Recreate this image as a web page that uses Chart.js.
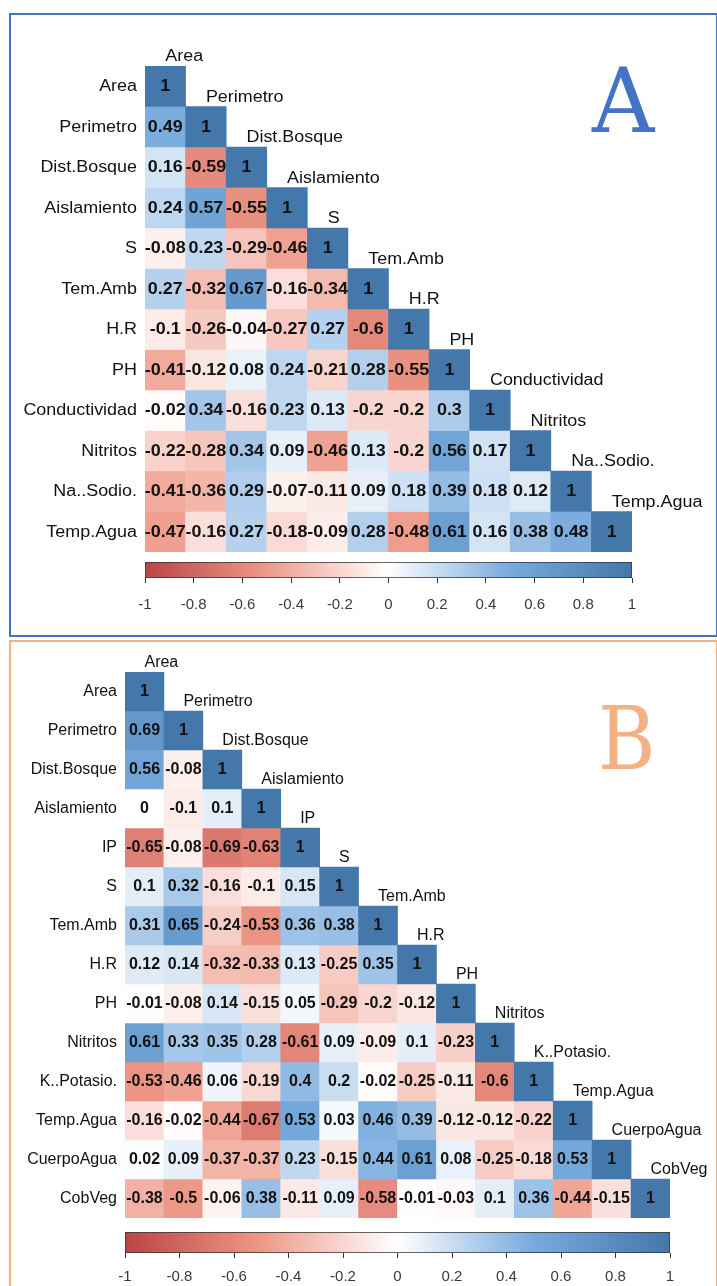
<!DOCTYPE html>
<html>
<head>
<meta charset="utf-8">
<title>Matrices de correlación</title>
<script src="https://cdn.jsdelivr.net/npm/chart.js@4/dist/chart.umd.min.js"></script>
<style>
  html, body { margin: 0; padding: 0; background: #fff; }
  #page { position: relative; width: 717px; height: 1286px; overflow: hidden; background: #fff; }
  .panel { position: absolute; box-sizing: border-box; border: 2px solid; }
  #panelA { left: 9px; top: 13px; width: 709px; height: 624px; border-color: #4472C4; }
  #panelB { left: 9px; top: 640px; width: 709px; height: 700px; border-color: #F4B183; }
  canvas { position: absolute; }
</style>
</head>
<body>
<div id="page">
  <div class="panel" id="panelA"></div>
  <div class="panel" id="panelB"></div>
  <canvas id="matA" width="702" height="545" style="left:12px;top:16px"></canvas>
  <canvas id="barA" width="702" height="62" style="left:12px;top:556px"></canvas>
  <canvas id="matB" width="702" height="585" style="left:12px;top:643px"></canvas>
  <canvas id="barB" width="702" height="57" style="left:12px;top:1226px"></canvas>
</div>
<script>
// Variables and lower-triangle correlations, panel A
const varsA = ['Area', 'Perimetro', 'Dist.Bosque', 'Aislamiento', 'S', 'Tem.Amb', 'H.R', 'PH',
  'Conductividad', 'Nitritos', 'Na..Sodio.', 'Temp.Agua'];
const corrA = [
  [1],
  [0.49, 1],
  [0.16, -0.59, 1],
  [0.24, 0.57, -0.55, 1],
  [-0.08, 0.23, -0.29, -0.46, 1],
  [0.27, -0.32, 0.67, -0.16, -0.34, 1],
  [-0.1, -0.26, -0.04, -0.27, 0.27, -0.6, 1],
  [-0.41, -0.12, 0.08, 0.24, -0.21, 0.28, -0.55, 1],
  [-0.02, 0.34, -0.16, 0.23, 0.13, -0.2, -0.2, 0.3, 1],
  [-0.22, -0.28, 0.34, 0.09, -0.46, 0.13, -0.2, 0.56, 0.17, 1],
  [-0.41, -0.36, 0.29, -0.07, -0.11, 0.09, 0.18, 0.39, 0.18, 0.12, 1],
  [-0.47, -0.16, 0.27, -0.18, -0.09, 0.28, -0.48, 0.61, 0.16, 0.38, 0.48, 1]
];

// Variables and lower-triangle correlations, panel B
const varsB = ['Area', 'Perimetro', 'Dist.Bosque', 'Aislamiento', 'IP', 'S', 'Tem.Amb', 'H.R', 'PH',
  'Nitritos', 'K..Potasio.', 'Temp.Agua', 'CuerpoAgua', 'CobVeg'];
const corrB = [
  [1],
  [0.69, 1],
  [0.56, -0.08, 1],
  [0, -0.1, 0.1, 1],
  [-0.65, -0.08, -0.69, -0.63, 1],
  [0.1, 0.32, -0.16, -0.1, 0.15, 1],
  [0.31, 0.65, -0.24, -0.53, 0.36, 0.38, 1],
  [0.12, 0.14, -0.32, -0.33, 0.13, -0.25, 0.35, 1],
  [-0.01, -0.08, 0.14, -0.15, 0.05, -0.29, -0.2, -0.12, 1],
  [0.61, 0.33, 0.35, 0.28, -0.61, 0.09, -0.09, 0.1, -0.23, 1],
  [-0.53, -0.46, 0.06, -0.19, 0.4, 0.2, -0.02, -0.25, -0.11, -0.6, 1],
  [-0.16, -0.02, -0.44, -0.67, 0.53, 0.03, 0.46, 0.39, -0.12, -0.12, -0.22, 1],
  [0.02, 0.09, -0.37, -0.37, 0.23, -0.15, 0.44, 0.61, 0.08, -0.25, -0.18, 0.53, 1],
  [-0.38, -0.5, -0.06, 0.38, -0.11, 0.09, -0.58, -0.01, -0.03, 0.1, 0.36, -0.44, -0.15, 1]
];

// Colour-key tick labels and the diverging palette anchors
const keyTicks = [-1, -0.8, -0.6, -0.4, -0.2, 0, 0.2, 0.4, 0.6, 0.8, 1];
const paletteStops = [[-1, '#BB4444'], [-0.5, '#EE9988'], [0, '#FFFFFF'], [0.5, '#77AADD'], [1, '#4477AA']];

const SANS = '"Liberation Sans", Arial, sans-serif';

function hexRgb(h) {
  return [parseInt(h.slice(1, 3), 16), parseInt(h.slice(3, 5), 16), parseInt(h.slice(5, 7), 16)];
}
function corrColor(v) {
  for (let k = 0; k < paletteStops.length - 1; k++) {
    const [v0, c0] = paletteStops[k], [v1, c1] = paletteStops[k + 1];
    if (v >= v0 && v <= v1) {
      const t = (v - v0) / (v1 - v0), a = hexRgb(c0), b = hexRgb(c1);
      return 'rgb(' + a.map((x, i) => Math.round(x + (b[i] - x) * t)).join(',') + ')';
    }
  }
  return paletteStops[paletteStops.length - 1][1];
}

// Text with optional horizontal stretch
function put(ctx, text, x, y, align, sx) {
  ctx.save();
  ctx.translate(x, y);
  ctx.scale(sx, 1);
  ctx.textAlign = align;
  ctx.fillText(text, 0, 0);
  ctx.restore();
}

// Cell values, row names, diagonal names and the panel letter
const corrLabels = {
  id: 'corrLabels',
  afterDatasetsDraw(chart, args, o) {
    const { ctx, chartArea } = chart;
    const xs = chart.scales.x, ys = chart.scales.y;
    const vars = chart.data.labels;
    ctx.save();
    ctx.fillStyle = '#111';
    ctx.textBaseline = 'middle';
    ctx.font = 'bold 16px ' + SANS;
    o.values.forEach((row, i) => row.forEach((v, j) => {
      put(ctx, String(v), xs.getPixelForValue(j), ys.getPixelForValue(i) + 0.5, 'center', o.sx);
    }));
    ctx.font = '16px ' + SANS;
    vars.forEach((name, i) => {
      put(ctx, name, chartArea.left - o.gap, ys.getPixelForValue(i) + 0.5, 'right', o.sx);
      put(ctx, name, xs.getPixelForValue(i), ys.getPixelForValue(i - 0.5) - o.lift, 'left', o.sx);
    });
    ctx.textBaseline = 'alphabetic';
    ctx.fillStyle = o.letterColor;
    ctx.font = o.letterSize + 'px "DejaVu Serif", "Liberation Serif", serif';
    put(ctx, o.letter, o.letterX, o.letterY, 'left', o.letterSx);
    ctx.restore();
  }
};

function matrixChart(id, vars, corr, pad, labelOpts) {
  const n = vars.length;
  const datasets = corr.map((row, i) => ({
    label: vars[i],
    data: vars.map((_, j) => (j <= i ? [i - 0.5, i + 0.5] : null)),
    backgroundColor: vars.map((_, j) => (j <= i ? corrColor(row[j]) : 'rgba(0,0,0,0)')),
    borderWidth: 0,
    grouped: false,
    barPercentage: 1,
    categoryPercentage: 1
  }));
  return new Chart(document.getElementById(id), {
    type: 'bar',
    data: { labels: vars, datasets },
    options: {
      responsive: false,
      animation: false,
      events: [],
      layout: { padding: pad },
      plugins: {
        legend: { display: false },
        tooltip: { enabled: false },
        corrLabels: Object.assign({ values: corr }, labelOpts)
      },
      scales: {
        x: { type: 'category', display: false, offset: true },
        y: { type: 'linear', display: false, min: -0.5, max: n - 0.5, reverse: true }
      }
    },
    plugins: [corrLabels]
  });
}

function keyFill(c) {
  const ch = c.chart;
  if (!ch.chartArea) return null;
  const x = ch.scales.x;
  const lo = keyTicks[0], hi = keyTicks[keyTicks.length - 1];
  const g = ch.ctx.createLinearGradient(x.getPixelForValue(lo), 0, x.getPixelForValue(hi), 0);
  paletteStops.forEach(([v, col]) => g.addColorStop((v - lo) / (hi - lo), col));
  return g;
}

function colorKey(id, pad, tickPad, axisHeight) {
  return new Chart(document.getElementById(id), {
    type: 'bar',
    data: {
      labels: [''],
      datasets: [{
        data: [[keyTicks[0], keyTicks[keyTicks.length - 1]]],
        backgroundColor: keyFill,
        borderColor: '#333',
        borderWidth: 1,
        borderSkipped: false,
        barPercentage: 1,
        categoryPercentage: 1
      }]
    },
    options: {
      indexAxis: 'y',
      responsive: false,
      animation: false,
      events: [],
      layout: { padding: pad },
      plugins: { legend: { display: false }, tooltip: { enabled: false } },
      scales: {
        x: {
          type: 'linear',
          min: keyTicks[0],
          max: keyTicks[keyTicks.length - 1],
          afterBuildTicks: s => { s.ticks = keyTicks.map(v => ({ value: v })); },
          afterFit: s => { s.height = axisHeight; },
          ticks: {
            padding: tickPad,
            color: '#3a3a3a',
            font: { family: SANS, size: 15 },
            autoSkip: false,
            maxRotation: 0,
            callback: v => String(v)
          },
          grid: { drawOnChartArea: false, drawTicks: true, tickLength: 5, color: '#333', lineWidth: 1 },
          border: { display: false }
        },
        y: { display: false }
      }
    }
  });
}

matrixChart('matA', varsA, corrA, { left: 133, top: 50, right: 82, bottom: 9 }, {
  sx: 1.12, gap: 8, lift: 9,
  letter: 'A', letterColor: '#4472C4', letterSize: 89, letterSx: 0.97, letterX: 580, letterY: 116
});
colorKey('barA', { left: 133, top: 6, right: 82, bottom: 0 }, 13, 40);

matrixChart('matB', varsB, corrB, { left: 113, top: 29, right: 44, bottom: 10 }, {
  sx: 1.0, gap: 8, lift: 9,
  letter: 'B', letterColor: '#F4B183', letterSize: 88, letterSx: 0.89, letterX: 586, letterY: 126
});
colorKey('barB', { left: 113, top: 6, right: 44, bottom: 0 }, 10, 30);
</script>
</body>
</html>
